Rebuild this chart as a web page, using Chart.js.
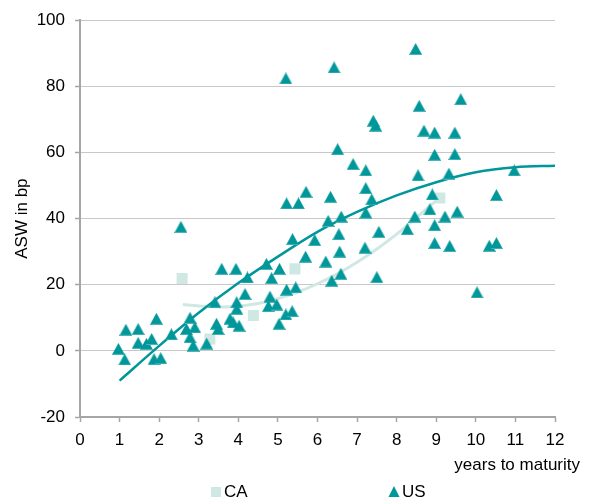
<!DOCTYPE html>
<html><head><meta charset="utf-8">
<script src="https://cdn.jsdelivr.net/npm/chart.js@4.4.0/dist/chart.umd.min.js"></script>
<style>html,body{margin:0;padding:0;background:#fff}#wrap{width:591px;height:504px}</style>
</head><body><div id="wrap"><canvas id="c" width="591" height="504"></canvas></div>
<script>
// ---- data ----
const seriesNames = ['CA', 'US'];
const usX = [0.97,1.13,1.16,1.47,1.47,1.68,1.81,1.93,1.87,2.04,2.31,2.55,2.69,2.78,2.9,2.78,2.86,3.2,3.41,3.45,3.49,3.58,3.94,3.79,3.87,4.02,3.96,3.96,4.17,4.23,4.71,4.84,5.04,4.8,4.76,4.97,5.03,5.22,5.45,5.2,5.36,5.37,5.2,5.22,5.52,5.71,5.7,5.93,6.21,6.27,6.33,6.36,6.42,6.51,6.54,6.56,6.59,6.6,6.9,7.2,7.22,7.22,7.37,7.22,7.41,7.47,7.5,7.55,8.27,8.46,8.48,8.54,8.57,8.69,8.84,8.9,8.96,8.96,8.96,8.96,9.22,9.32,9.34,9.47,9.47,9.53,9.62,10.03,10.34,10.52,10.52,10.97];
const usY = [0.6,-2.6,6.4,6.6,2.4,2.1,3.6,9.7,-2.5,-2.2,5.0,37.5,6.6,10.0,7.1,4.1,1.6,2.2,14.7,8.2,6.6,24.8,24.8,9.7,8.6,7.6,14.7,12.7,17.2,22.2,26.3,22.0,24.8,16.4,13.5,14.0,8.2,18.5,19.2,11.0,12.0,33.8,82.4,44.6,44.6,48.1,28.5,33.5,27.0,39.3,46.6,21.2,85.7,61.0,35.3,30.0,23.3,40.6,56.5,31.2,54.6,49.2,45.8,41.8,69.6,68.1,22.3,36.0,36.8,40.6,91.3,53.1,74.1,66.6,42.8,47.3,66.0,59.3,38.0,32.6,40.6,53.6,31.7,66.0,59.5,42.1,76.1,17.7,31.8,32.6,47.1,54.6];
const caX = [2.58,3.28,4.38,5.43,9.09];
const caY = [21.9,3.6,10.7,24.8,46.2];
const usTrendX = [1,2,3,4,5,6,7,8,9,10,11,12];
const usTrendY = [-9,1.5,11.5,20.5,28.5,36,42,47,51,54,55.5,56];
const caTrendX = [2.6,3,3.5,4,4.5,5,5.5,6,6.5,7,7.5,8,8.5,9.1];
const caTrendY = [14.0,13.6,13.3,13.5,14.3,15.8,17.8,20.3,23.3,26.8,30.8,35.3,40.3,46.5];
const xTitle = 'years to maturity';
const yTitle = 'ASW in bp';

const US_COL = '#00979a';
const CA_COL = '#d0e8e4';
const FONT = '"Liberation Sans", Arial, sans-serif';

const pts = (xs, ys) => xs.map((x, i) => ({x, y: ys[i]}));

// triangle marker sprite (style only)
function triSprite(w, h) {
  const c = document.createElement('canvas');
  c.width = w; c.height = h;
  const g = c.getContext('2d');
  g.fillStyle = US_COL;
  g.beginPath();
  g.moveTo(w / 2, 0); g.lineTo(w, h); g.lineTo(0, h); g.closePath();
  g.fill();
  g.fillStyle = 'rgba(120,200,200,0.6)';
  g.fillRect(1, h - 1, w - 2, 1);
  return c;
}
const triMarker = triSprite(13, 12);

const extras = {
  id: 'extras',
  afterDraw(chart) {
    const ctx = chart.ctx, ca = chart.chartArea;
    ctx.save();
    ctx.font = '17px ' + FONT;
    ctx.fillStyle = '#000';
    ctx.textAlign = 'right';
    ctx.textBaseline = 'middle';
    ctx.fillText(xTitle, ca.right + 25, ca.bottom + 48);
    // legend
    const ly = ca.bottom + 75;
    ctx.fillStyle = CA_COL;
    ctx.fillRect(211, ly - 5, 10, 10);
    ctx.fillStyle = US_COL;
    ctx.beginPath();
    ctx.moveTo(394, ly - 6);
    ctx.lineTo(399.5, ly + 5);
    ctx.lineTo(388.5, ly + 5);
    ctx.closePath();
    ctx.fill();
    ctx.fillStyle = '#000';
    ctx.textAlign = 'left';
    ctx.fillText(seriesNames[0], 224, ly);
    ctx.fillText(seriesNames[1], 402, ly);
    ctx.restore();
  }
};

new Chart(document.getElementById('c'), {
  type: 'scatter',
  data: {
    datasets: [
      {label: seriesNames[1], data: pts(usX, usY), pointStyle: triMarker, pointRadius: 7,
       backgroundColor: US_COL, borderColor: US_COL, borderWidth: 0, order: 0},
      {label: 'US trend', data: pts(usTrendX, usTrendY), showLine: true, pointRadius: 0,
       borderColor: US_COL, borderWidth: 2.5, cubicInterpolationMode: 'monotone', order: 1},
      {label: 'CA trend', data: pts(caTrendX, caTrendY), showLine: true, pointRadius: 0,
       borderColor: CA_COL, borderWidth: 3, cubicInterpolationMode: 'monotone', order: 2},
      {label: seriesNames[0], data: pts(caX, caY), pointStyle: 'rect', pointRadius: 7.8,
       backgroundColor: CA_COL, borderColor: CA_COL, borderWidth: 0, order: 3}
    ]
  },
  options: {
    responsive: false,
    animation: false,
    layout: {padding: {top: 19, right: 36, left: 0, bottom: 0}},
    plugins: {legend: {display: false}, tooltip: {enabled: false}},
    scales: {
      x: {
        type: 'linear', min: 0, max: 12,
        ticks: {stepSize: 1, color: '#000', font: {size: 17, family: FONT}, padding: 8},
        grid: {display: true, drawOnChartArea: false, drawTicks: true, tickLength: 5,
               tickColor: '#a6a6a6', tickWidth: 1.5},
        border: {display: true, color: '#a6a6a6', width: 2},
        afterFit: s => { s.height = 87; }
      },
      y: {
        type: 'linear', min: -20, max: 100,
        ticks: {stepSize: 20, color: '#000', font: {size: 17, family: FONT}, padding: 10},
        grid: {color: c => (c.tick && c.tick.value === -20) ? 'rgba(0,0,0,0)' : '#c8c8c8',
               borderDash: [6, 4], lineWidth: 1, tickLength: 5, tickColor: '#a6a6a6',
               tickWidth: 1.5, tickBorderDash: []},
        border: {display: true, color: '#a6a6a6', width: 2},
        title: {display: true, text: yTitle, color: '#000', font: {size: 17, family: FONT},
                padding: {top: 12, bottom: 0}},
        afterFit: s => { s.width = 80; }
      }
    }
  },
  plugins: [extras]
});
</script>
</body></html>
